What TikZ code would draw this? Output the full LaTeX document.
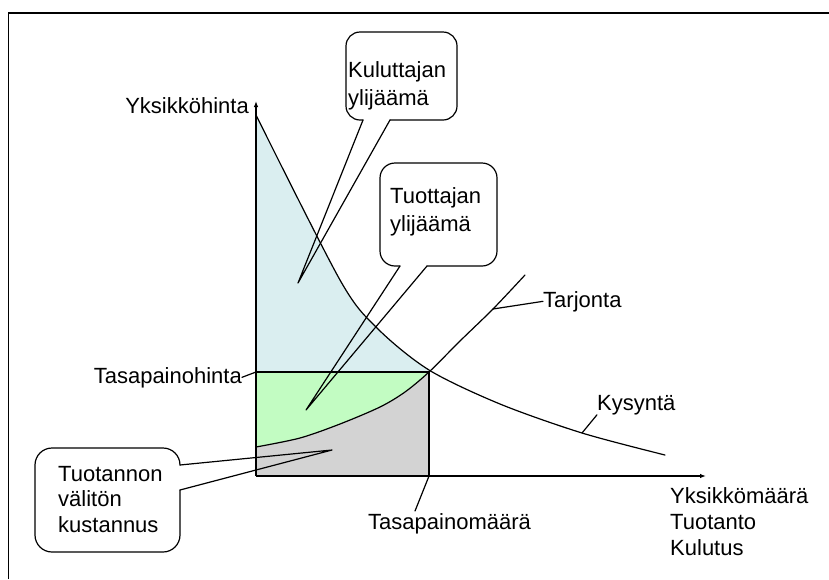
\documentclass[tikz,border=0pt]{standalone}
\usepackage{fontspec}
\setmainfont{Liberation Sans}
\usetikzlibrary{arrows.meta}
\definecolor{cbluefill}{RGB}{218,238,240}
\definecolor{cgreenfill}{RGB}{194,252,194}
\definecolor{cgreyfill}{RGB}{211,211,211}
\begin{document}
\begin{tikzpicture}[x=1pt,y=-1pt,
  line/.style={line width=1.2pt, line join=round, line cap=round},
  boxline/.style={line, rounded corners=15pt},
  lbl/.style={inner sep=0pt, font=\fontsize{22}{26}\selectfont},
  clbl/.style={inner sep=0pt, align=left, anchor=north west, font=\fontsize{22}{28}\selectfont},
  axis/.style={line width=1.2pt, -{Latex[length=6pt,width=4.5pt]}}]
\useasboundingbox (0,0) rectangle (829,579);
% frame
\draw[line width=1.4pt] (8.5,579) -- (8.5,13) -- (829,13);
% key points
\coordinate (O) at (256,476);
\coordinate (E) at (429,372);
\coordinate (P0) at (256,372);
\coordinate (Q0) at (429,476);
\coordinate (ytop) at (256,101);
\coordinate (xend) at (706,476);
% fills
\begin{scope}
  \clip (256,90) rectangle (429,372);
  \fill[cbluefill] plot[smooth] coordinates {(256,115) (340,280) (377,328) (429,370) (500,404) (582,433) (665,455)} -- (665,480) -- (256,480) -- cycle;
\end{scope}
\begin{scope}
  \clip (256,372) rectangle (429,476);
  \fill[cgreenfill] plot[smooth] coordinates {(256,447) (300,438) (340,424) (380,407) (405,392) (429,372) (460,341) (493,309) (525,275)} -- (256,275) -- cycle;
  \fill[cgreyfill] plot[smooth] coordinates {(256,447) (300,438) (340,424) (380,407) (405,392) (429,372) (460,341) (493,309) (525,275)} -- (525,476) -- (256,476) -- cycle;
\end{scope}
% lines
\draw[line] (P0) -- (E) -- (Q0);
\draw[line] plot[smooth] coordinates {(256,447) (300,438) (340,424) (380,407) (405,392) (429,372) (460,341) (493,309) (525,275)};
\draw[line] plot[smooth] coordinates {(256,115) (340,280) (377,328) (429,370) (500,404) (582,433) (665,455)};
\draw[axis] (O) -- (ytop);
\draw[axis] (O) -- (xend);
% callouts
\draw[boxline, rounded corners=14pt] (363,120) -- (346,120) -- (346,32) -- (457,32) -- (457,120) -- (390,120);
\draw[line] (363,120) -- (298,283) -- (390,120);
\draw[boxline] (400,266) -- (380,266) -- (380,163) -- (497,163) -- (497,266) -- (427,266);
\draw[line] (400,266) -- (306,410) -- (427,266);
\draw[boxline, rounded corners=17pt] (180,465) -- (180,448) -- (35,448) -- (35,552) -- (180,552) -- (180,490);
\draw[line] (180,465) -- (332,450) -- (180,490);
\node[clbl] (kul) at (348,61) {Kuluttajan\\ylijäämä};
\node[clbl] (tuo) at (390,187) {Tuottajan\\ylijäämä};
\node[clbl, font=\fontsize{22}{25.5}\selectfont] (tvk) at (58,466) {Tuotannon\\välitön\\kustannus};
% labels
\node[lbl, anchor=base east] (yl) at (249,113) {Yksikköhinta};
\node[lbl, anchor=base east] (tph) at (242,383) {Tasapainohinta};
\draw[line] (tph.east) -- (P0);
\node[lbl, anchor=base west] (tpm) at (368,529) {Tasapainomäärä};
\coordinate (tpmend) at (415,511);
\draw[line] (Q0) -- (tpmend);
\node[lbl, anchor=base west] (tarj) at (543,307) {Tarjonta};
\coordinate (sup1) at (493,309);
\draw[line] (sup1) -- (tarj.west);
\node[lbl, anchor=base west] (kys) at (597,410) {Kysyntä};
\coordinate (dem1) at (582,433);
\draw[line] (dem1) -- (kys.south west);
\node[lbl, align=left, anchor=north west] (xl) at (670,487) {Yksikkömäärä\\Tuotanto\\Kulutus};
\end{tikzpicture}
\end{document}
